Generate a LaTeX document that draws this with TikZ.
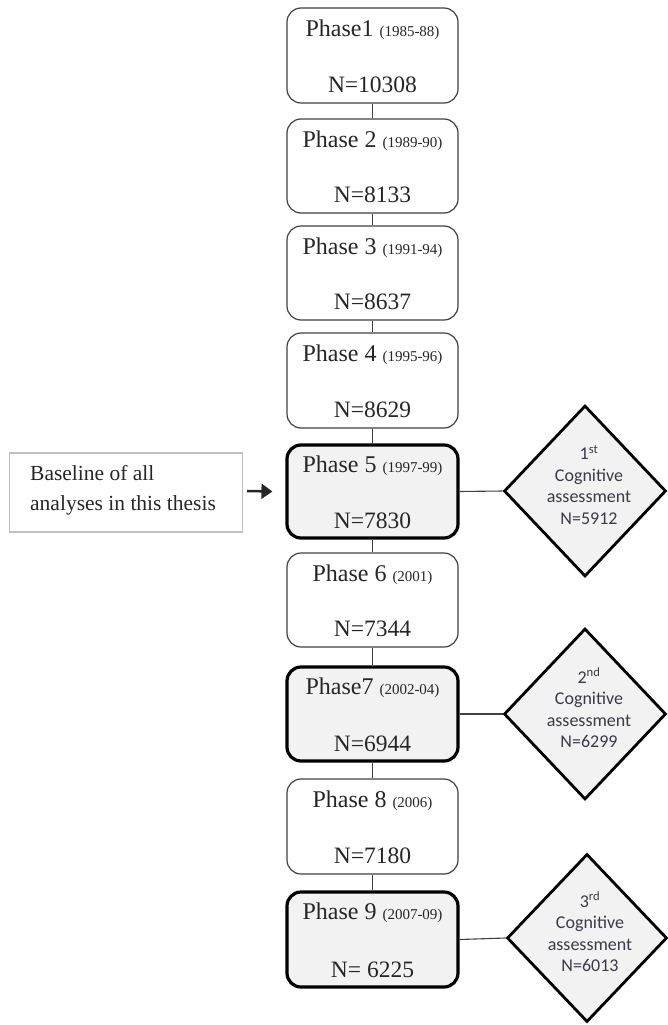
\documentclass[tikz,border=0pt]{standalone}
\usepackage{fontspec}
\setmainfont{Liberation Serif}
\newfontfamily\calib{Carlito}
\usetikzlibrary{shapes.geometric,arrows.meta}
\definecolor{boxfill}{HTML}{F2F2F2}
\definecolor{thinline}{HTML}{404040}
\definecolor{graybox}{HTML}{BFBFBF}
\definecolor{dtext}{HTML}{3A3A4A}
\tikzset{
  phasebox/.style={draw=thinline, line width=1.2pt, rounded corners=14pt, fill=white,
    minimum width=171pt, inner sep=0pt},
  keybox/.style={phasebox, draw=black, line width=3.2pt, fill=boxfill},
  ttl/.style={anchor=base, inner sep=0pt, font=\fontsize{24}{27}\selectfont, text=black!85},
  num/.style={anchor=base, inner sep=0pt, font=\fontsize{23.5}{27}\selectfont, text=black!85},
  assess/.style={diamond, draw=black, line width=2.8pt, fill=boxfill, inner sep=0pt,
    minimum width=162pt, minimum height=171pt},
  atext/.style={align=center, inner sep=0pt, font=\calib\fontsize{18}{21.5}\selectfont, text=dtext},
  link/.style={draw=thinline, line width=1.1pt},
}
\newcommand{\yr}[1]{{\fontsize{15}{17}\selectfont #1}}
\begin{document}
\begin{tikzpicture}[x=1pt,y=-1pt]
\useasboundingbox (0,0) rectangle (667,1025);
% phase boxes: name/top/bottom/style/title/N
\foreach \nm/\t/\b/\st/\ti/\n in {
  p1/8/103/phasebox/{Phase1 \yr{(1985-88)}}/{N=10308},
  p2/119/213/phasebox/{Phase 2 \yr{(1989-90)}}/{N=8133},
  p3/226/320/phasebox/{Phase 3 \yr{(1991-94)}}/{N=8637},
  p4/333/428/phasebox/{Phase 4 \yr{(1995-96)}}/{N=8629},
  p5/445/538/keybox/{Phase 5 \yr{(1997-99)}}/{N=7830},
  p6/553/647/phasebox/{Phase 6 \yr{(2001)}}/{N=7344},
  p7/667/761/keybox/{Phase7 \yr{(2002-04)}}/{N=6944},
  p8/779/874/phasebox/{Phase 8 \yr{(2006)}}/{N=7180},
  p9/892/987/keybox/{Phase 9 \yr{(2007-09)}}/{N= 6225}} {
  \node[\st, minimum height={\b-\t}] (\nm) at (372.5,{(\t+\b)/2}) {};
  \node[ttl] (\nm t) at ([yshift=-29pt]\nm.north) {\ti};
  \node[num] (\nm n) at ([yshift=11pt]\nm.south) {\n};
}
\foreach \a/\b in {p1/p2,p2/p3,p3/p4,p4/p5,p5/p6,p6/p7,p7/p8,p8/p9}
  \draw[link] (\a.south) -- (\b.north);
% assessments
\node[assess] (d1) at (585,491) {};
\node[atext] (d1t) at (589,485) {1\textsuperscript{st}\\Cognitive\\assessment\\N=5912};
\node[assess] (d2) at (585,714) {};
\node[atext] (d2t) at (589,708) {2\textsuperscript{nd}\\Cognitive\\assessment\\N=6299};
\node[assess, minimum width=160pt, minimum height=168pt] (d3) at (587,938) {};
\node[atext] (d3t) at (590,932) {3\textsuperscript{rd}\\Cognitive\\assessment\\N=6013};
\draw[link] (p5.east) -- (d1.west);
\draw[link] (p7.east) -- (d2.west);
\draw[link] (p9.east) -- (d3.west);
% baseline box
\node[draw=graybox, line width=1.2pt, minimum width=233pt, minimum height=79pt, inner sep=0pt] (base) at (126,492.5) {};
\node[anchor=west, align=left, inner sep=0pt, font=\fontsize{21.5}{30}\selectfont, text=black!85] (baset) at (30,490) {Baseline of all\\analyses in this thesis};
\coordinate (arrs) at (247,491);
\draw[line width=2.5pt, -{Triangle[length=11pt,width=15pt]}, draw=black!85] (arrs) -- ([xshift=-13pt]p5.west);
\end{tikzpicture}
\end{document}
